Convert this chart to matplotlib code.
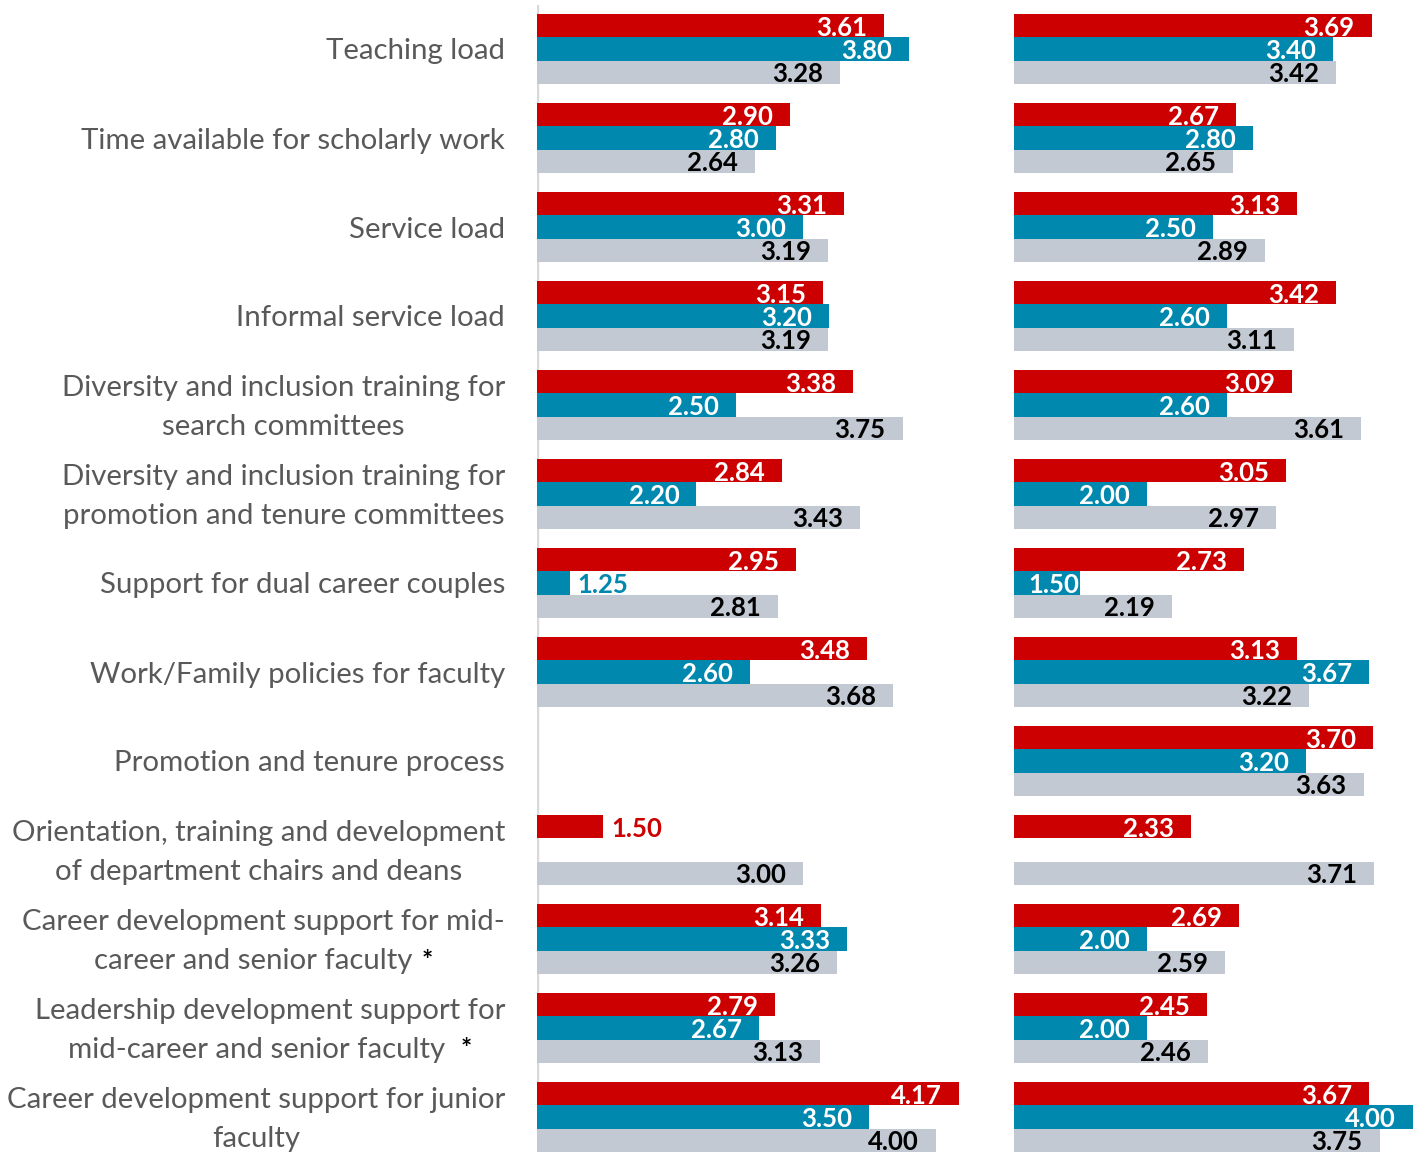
import numpy as np
import matplotlib
matplotlib.use("Agg")
import matplotlib.pyplot as plt

W, H = 1413, 1152

cats = ["Teaching load",
        "Time available for scholarly work",
        "Service load",
        "Informal service load",
        "Diversity and inclusion training for\nsearch committees",
        "Diversity and inclusion training for\npromotion and tenure committees",
        "Support for dual career couples",
        "Work/Family policies for faculty",
        "Promotion and tenure process",
        "Orientation, training and development\nof department chairs and deans",
        "Career development support for mid-\ncareer and senior faculty *",
        "Leadership development support for\nmid-career and senior faculty  *",
        "Career development support for junior\nfaculty"]

nan = np.nan
left_red = [3.61, 2.90, 3.31, 3.15, 3.38, 2.84, 2.95, 3.48, nan, 1.50, 3.14, 2.79, 4.17]
left_teal = [3.80, 2.80, 3.00, 3.20, 2.50, 2.20, 1.25, 2.60, nan, nan, 3.33, 2.67, 3.50]
left_gray = [3.28, 2.64, 3.19, 3.19, 3.75, 3.43, 2.81, 3.68, nan, 3.00, 3.26, 3.13, 4.00]

right_red = [3.69, 2.67, 3.13, 3.42, 3.09, 3.05, 2.73, 3.13, 3.70, 2.33, 2.69, 2.45, 3.67]
right_teal = [3.40, 2.80, 2.50, 2.60, 2.60, 2.00, 1.50, 3.67, 3.20, nan, 2.00, 2.00, 4.00]
right_gray = [3.42, 2.65, 2.89, 3.11, 3.61, 2.97, 2.19, 3.22, 3.63, 3.71, 2.59, 2.46, 3.75]

RED, TEAL, GRAY = "#CC0000", "#0088AE", "#C3C9D3"
FONT = "Lato"

fig = plt.figure(figsize=(W / 100, H / 100), dpi=100)


def make_ax(x0, x1, xmax):
    ax = fig.add_axes([x0 / W, 0, (x1 - x0) / W, (H - 4.5) / H])
    ax.set_xlim(1, xmax)
    ax.set_ylim((H - 49) / 89.0, -0.5)
    for s in ax.spines.values():
        s.set_visible(False)
    ax.set_xticks([])
    ax.set_yticks([])
    return ax


axL = make_ax(536.5, 1003, 4.503)
axR = make_ax(1013.5, 1413, 4.0)
axL.axvline(1, color="#D9D9D9", lw=2.5, zorder=0)

y = np.arange(len(cats))
bh = 0.262


def draw_panel(ax, series):
    for k, (vals, col) in enumerate(series):
        vals = np.array(vals)
        yy = y + (k - 1) * bh
        ax.barh(yy, vals - 1, left=1, height=bh, color=col, edgecolor="none")
        txt_col = "black" if col == GRAY else "white"
        for yi, v in zip(yy, vals):
            if np.isnan(v):
                continue
            if v < 1.3 or (ax is axL and v < 1.6):
                ax.annotate(f"{v:.2f}", (v, yi), xytext=(8, -2), textcoords="offset pixels",
                            ha="left", va="center", color=col, fontsize=18.5,
                            fontweight="bold", family=FONT)
            else:
                off = -1 if v < 1.6 else -17
                ax.annotate(f"{v:.2f}", (v, yi), xytext=(off, -2), textcoords="offset pixels",
                            ha="right", va="center", color=txt_col, fontsize=18.5,
                            fontweight="bold", family=FONT)


draw_panel(axL, [(left_red, RED), (left_teal, TEAL), (left_gray, GRAY)])
draw_panel(axR, [(right_red, RED), (right_teal, TEAL), (right_gray, GRAY)])

# category labels: block right-aligned at x=505px, lines centred
renderer = fig.canvas.get_renderer()
lab_kw = dict(fontsize=21.2, family=FONT, color="#595959")


def text_w(s):
    t = fig.text(0, 0, s, **lab_kw)
    w = t.get_window_extent(renderer).width
    t.remove()
    return w


for i, lab in enumerate(cats):
    lines = lab.split("\n")
    widths = [text_w(l) for l in lines]
    cx = 505 - max(widths) / 2
    yc = 49 + 89 * i
    n = len(lines)
    for j, (l, w) in enumerate(zip(lines, widths)):
        ly = yc + (j - (n - 1) / 2) * 39
        if l.endswith("*"):
            fig.text((cx - w / 2) / W, 1 - ly / H, l[:-1], ha="left",
                     va="center_baseline", **lab_kw)
            fig.text((cx + w / 2) / W, 1 - ly / H, "*", ha="right", va="center_baseline",
                     fontsize=19, family=FONT, color="black", fontweight="bold")
        else:
            fig.text(cx / W, 1 - ly / H, l, ha="center", va="center_baseline", **lab_kw)

fig.savefig("out.png", dpi=100)
